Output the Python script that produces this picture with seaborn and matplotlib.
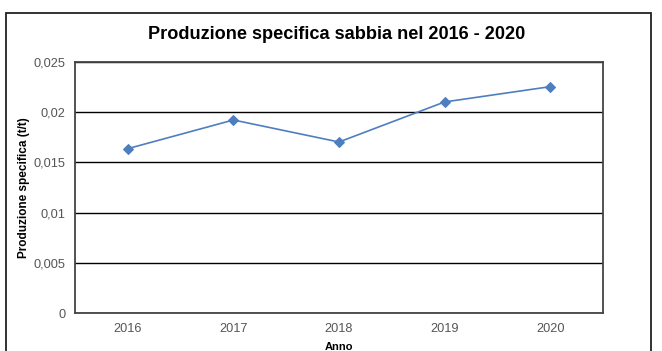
import matplotlib
matplotlib.use("Agg")
import matplotlib.pyplot as plt
from matplotlib.patches import Rectangle
from matplotlib.ticker import FuncFormatter, MultipleLocator
import seaborn as sns
import pandas as pd

anni = ["2016", "2017", "2018", "2019", "2020"]
produzione = [0.01636, 0.01921, 0.01702, 0.02100, 0.02252]

sns.set_theme(style="white")
plt.rcParams["font.family"] = ["Liberation Sans", "DejaVu Sans"]

df = pd.DataFrame({"Anno": anni, "Produzione": produzione})

fig = plt.figure(figsize=(6.62, 3.51), dpi=100)
ax = fig.add_axes([75 / 662, 1 - 313.3 / 351, (603 - 75) / 662, (313.3 - 61.7) / 351])

# Outer chart frame
fig.patches.append(Rectangle((6 / 662, -0.2), (651 - 6) / 662, 0.2 + 1 - 13 / 351,
                             transform=fig.transFigure, fill=False,
                             edgecolor="#222222", linewidth=1.3))

sns.lineplot(data=df, x="Anno", y="Produzione", ax=ax, color="#4F7EBF",
             marker="D", markersize=5, markeredgecolor="#4F7EBF",
             linewidth=1.2, zorder=3)

ax.set_xlim(-0.5, 4.5)
ax.set_ylim(0, 0.025)
ax.yaxis.set_major_locator(MultipleLocator(0.005))
ax.yaxis.set_major_formatter(FuncFormatter(lambda v, p: f"{v:g}".replace(".", ",")))
ax.grid(axis="y", color="black", linewidth=1.0)
ax.set_axisbelow(True)
for s in ax.spines.values():
    s.set_color("#444444")
    s.set_linewidth(1.3)

ax.tick_params(axis="both", labelsize=9.2, labelcolor="#555555", length=0, pad=7)
ax.set_xlabel("Anno", fontsize=8, fontweight="bold", color="black", labelpad=5)
ax.set_ylabel("Produzione specifica (t/t)", fontsize=8.5, fontweight="bold",
              color="black", labelpad=2)

fig.text(0.509, 0.903, "Produzione specifica sabbia nel 2016 - 2020",
         ha="center", va="center", fontsize=13.1, fontweight="bold", color="black")

fig.savefig("out.png", dpi=100)
